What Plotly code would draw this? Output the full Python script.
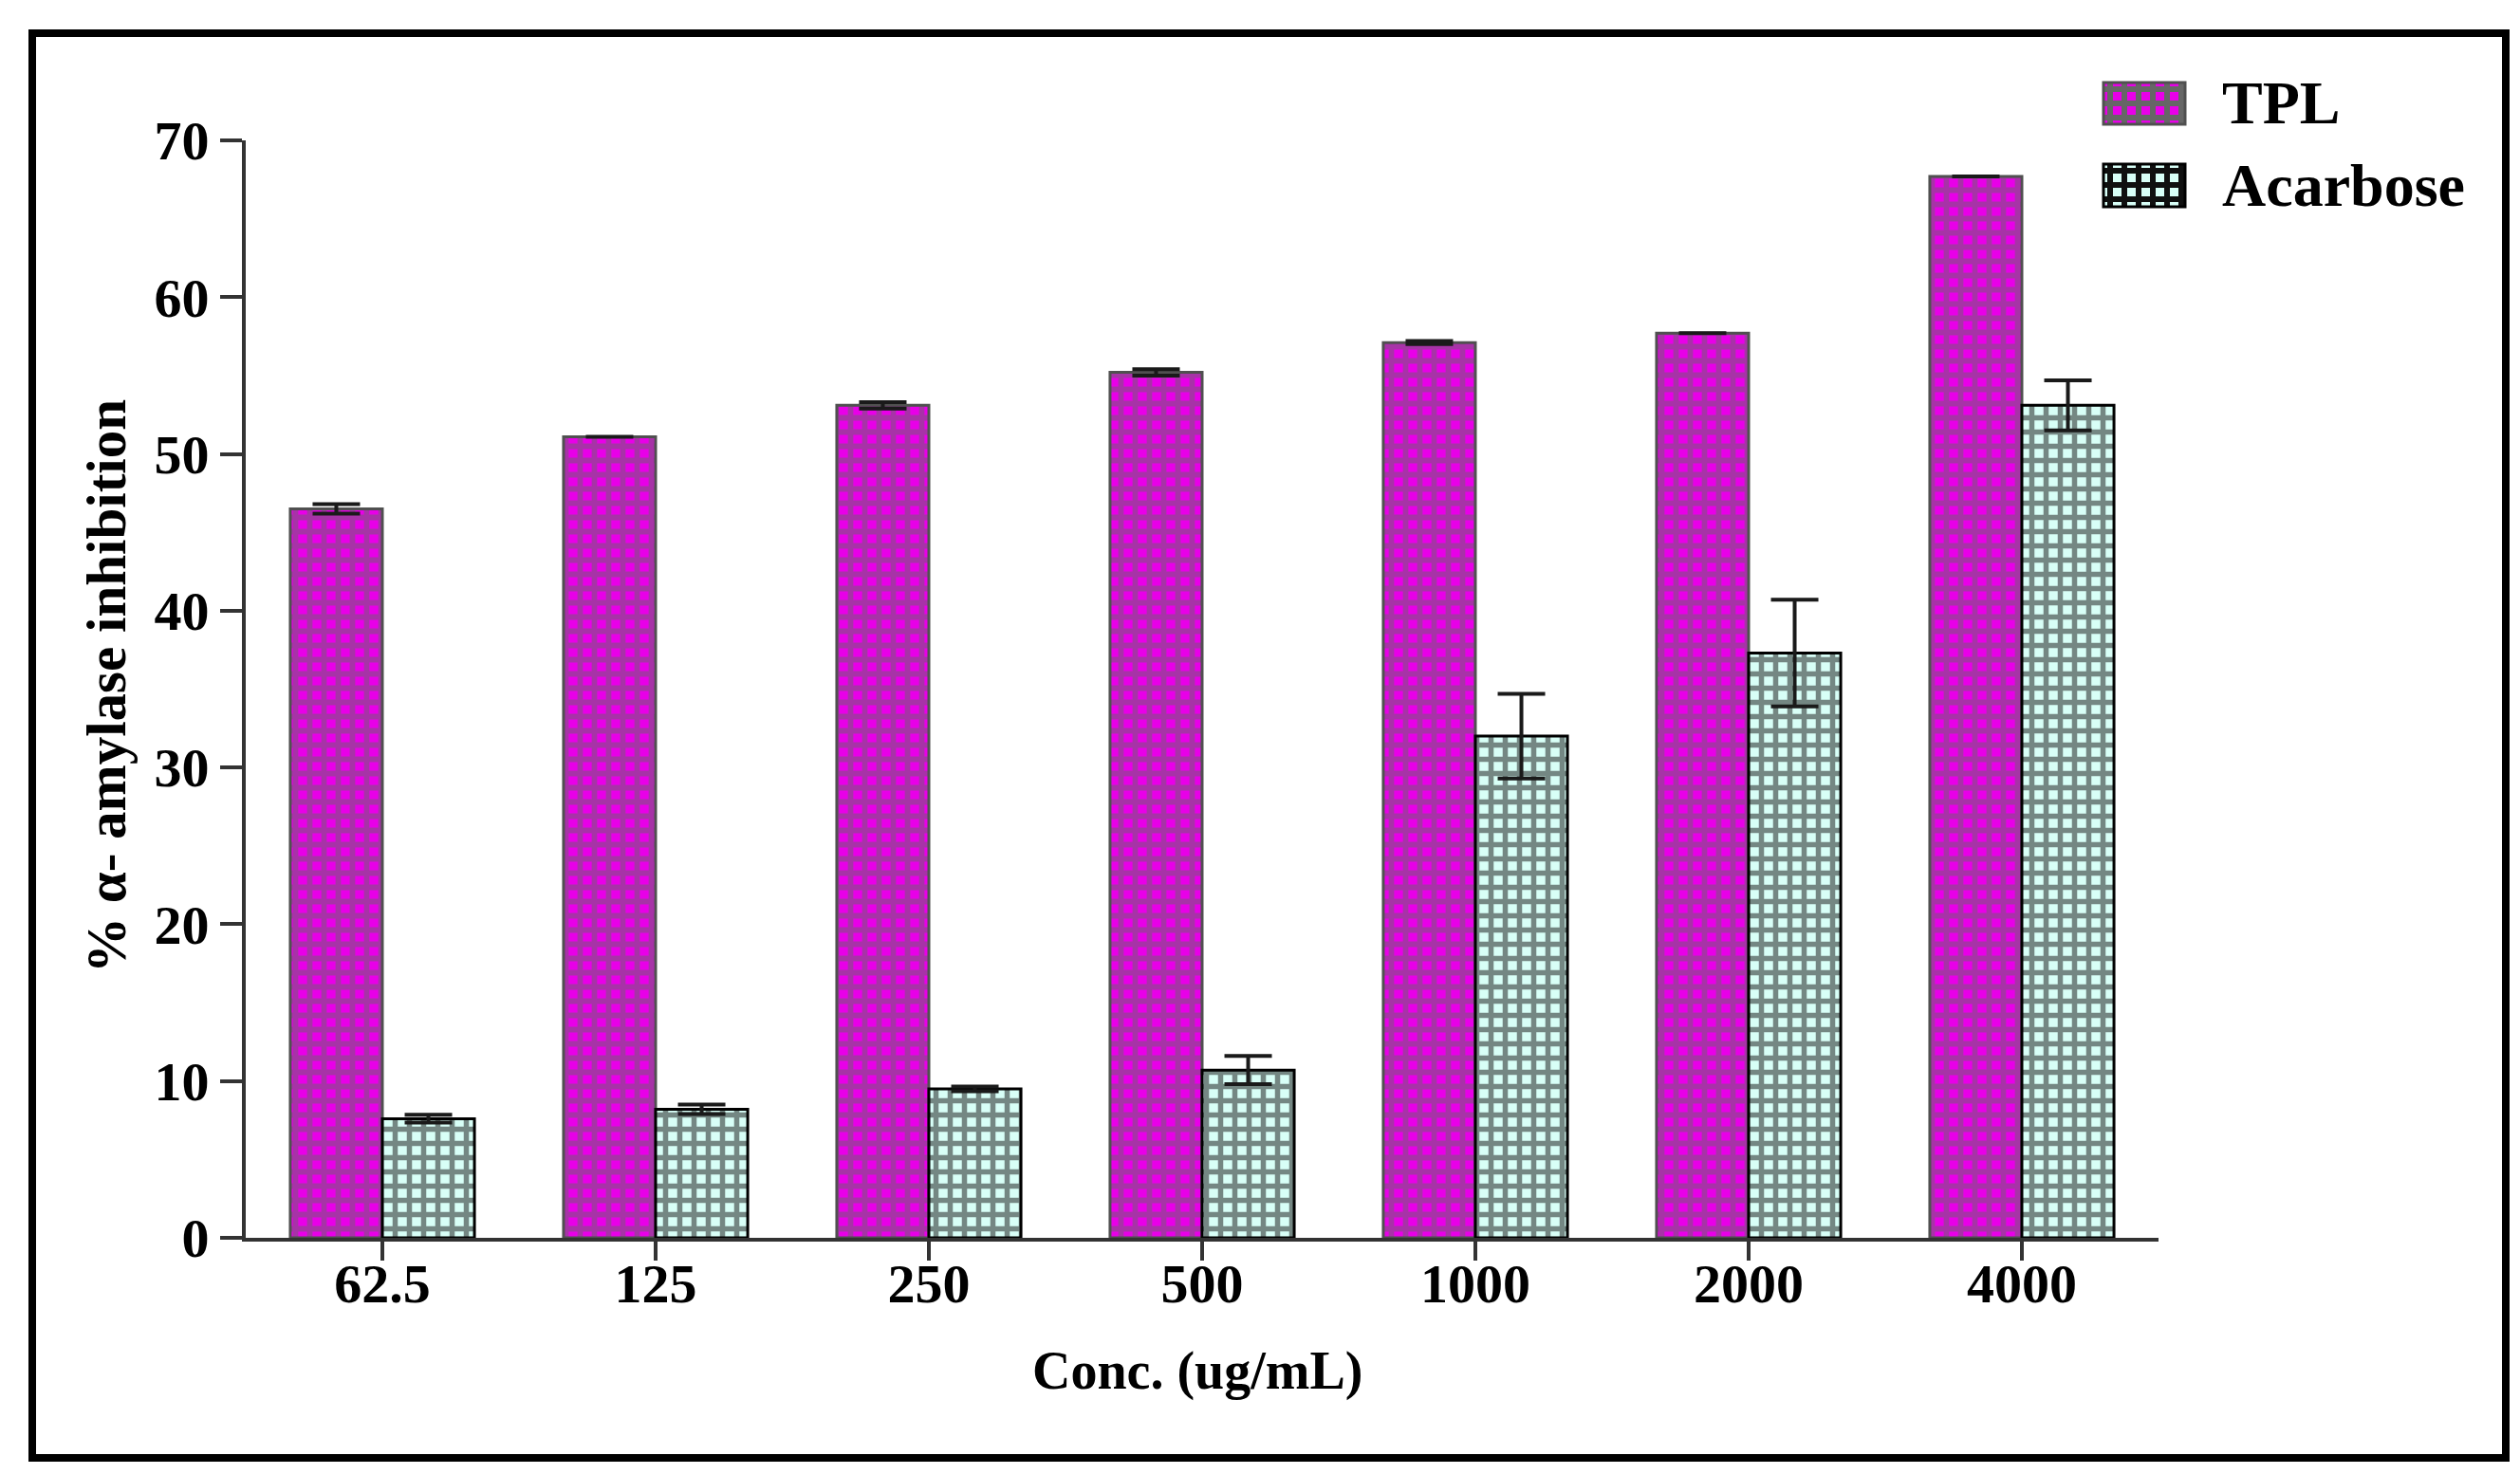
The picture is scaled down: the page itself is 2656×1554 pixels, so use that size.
import plotly.graph_objects as go

categories = ["62.5", "125", "250", "500", "1000", "2000", "4000"]
tpl_values = [46.5, 51.1, 53.1, 55.2, 57.1, 57.7, 67.7]
tpl_errors = [0.3, 0.0, 0.2, 0.2, 0.1, 0.0, 0.0]
acarbose_values = [7.6, 8.2, 9.5, 10.7, 32.0, 37.3, 53.1]
acarbose_errors = [0.25, 0.3, 0.15, 0.9, 2.7, 3.4, 1.6]
y_ticks = [0, 10, 20, 30, 40, 50, 60, 70]

W, H = 2656, 1554
L, R, T, B = 259, 381, 148, 249
PW, PH = W - L - R, H - T - B

def px_x(px):
    return (px - L) / PW

def px_y(py):
    return (H - B - py) / PH

FONT = "Liberation Serif"

fig = go.Figure()
fig.add_trace(go.Bar(
    x=categories, y=tpl_values, name="TPL",
    marker=dict(
        color="#e400e4",
        line=dict(color="#505050", width=3),
        pattern=dict(shape="+", fgcolor="#666666", bgcolor="#e800e8",
                     size=15, solidity=0.62, fillmode="overlay"),
    ),
    error_y=dict(type="data", array=tpl_errors, symmetric=True,
                 color="#1a1a1a", thickness=4, width=25),
    showlegend=False,
))
fig.add_trace(go.Bar(
    x=categories, y=acarbose_values, name="Acarbose",
    marker=dict(
        color="#d2fff4",
        line=dict(color="#000000", width=3),
        pattern=dict(shape="+", fgcolor="#101010", bgcolor="#d8fff7",
                     size=15, solidity=0.6, fillmode="overlay"),
    ),
    error_y=dict(type="data", array=acarbose_errors, symmetric=True,
                 color="#1a1a1a", thickness=4, width=25),
    showlegend=False,
))

shapes = []
# outer frame
shapes.append(dict(type="rect", xref="paper", yref="paper",
                   x0=px_x(34), x1=px_x(2641), y0=px_y(1537), y1=px_y(35),
                   line=dict(color="black", width=8), fillcolor="rgba(0,0,0,0)",
                   layer="above"))

# legend swatches (decoration)
def swatch(x0, y0, x1, y1, bg, fg, edge, lw):
    shapes.append(dict(type="rect", xref="paper", yref="paper",
                       x0=px_x(x0), x1=px_x(x1), y0=px_y(y1), y1=px_y(y0),
                       fillcolor=bg, line=dict(width=0)))
    step = 15
    xx = x0 + 7
    while xx < x1:
        shapes.append(dict(type="line", xref="paper", yref="paper",
                           x0=px_x(xx), x1=px_x(xx), y0=px_y(y1), y1=px_y(y0),
                           line=dict(color=fg, width=lw)))
        xx += step
    yy = y0 + 7
    while yy < y1:
        shapes.append(dict(type="line", xref="paper", yref="paper",
                           x0=px_x(x0), x1=px_x(x1), y0=px_y(yy), y1=px_y(yy),
                           line=dict(color=fg, width=lw)))
        yy += step
    shapes.append(dict(type="rect", xref="paper", yref="paper",
                       x0=px_x(x0), x1=px_x(x1), y0=px_y(y1), y1=px_y(y0),
                       fillcolor="rgba(0,0,0,0)", line=dict(color=edge, width=3)))

swatch(2217, 87, 2303, 131, "#e800e8", "#666666", "#505050", 6)
swatch(2217, 173, 2303, 218, "#d8fff7", "#101010", "#000000", 6)

annotations = [
    dict(text="TPL", xref="paper", yref="paper", x=px_x(2340), y=px_y(109),
         xanchor="left", yanchor="middle", showarrow=False,
         font=dict(family=FONT, size=64, color="black", weight="bold")),
    dict(text="Acarbose", xref="paper", yref="paper", x=px_x(2340), y=px_y(196),
         xanchor="left", yanchor="middle", showarrow=False,
         font=dict(family=FONT, size=64, color="black", weight="bold")),
    dict(text="% α- amylase inhibition", xref="paper", yref="paper",
         x=px_x(112), y=px_y(724), textangle=-90,
         xanchor="center", yanchor="middle", showarrow=False,
         font=dict(family=FONT, size=59, color="black", weight="bold")),
    dict(text="Conc. (ug/mL)", xref="paper", yref="paper",
         x=px_x(1262), y=px_y(1445),
         xanchor="center", yanchor="middle", showarrow=False,
         font=dict(family=FONT, size=56, color="black", weight="bold")),
]

fig.update_layout(
    width=W, height=H, autosize=False,
    margin=dict(l=L, r=R, t=T, b=B, pad=0),
    paper_bgcolor="white", plot_bgcolor="white",
    barmode="group", bargap=0.326, bargroupgap=0,
    shapes=shapes, annotations=annotations,
    showlegend=False,
)
fig.update_xaxes(
    type="category", range=[-0.5, 6.5],
    showline=True, linecolor="#333333", linewidth=4,
    ticks="outside", ticklen=20, tickwidth=4, tickcolor="#333333",
    ticklabelstandoff=-26,
    tickfont=dict(family=FONT, size=58, color="black", weight="bold"),
    showgrid=False, zeroline=False,
)
fig.update_yaxes(
    range=[0, 70], tickvals=y_ticks,
    showline=True, linecolor="#333333", linewidth=4,
    ticks="outside", ticklen=23, tickwidth=4, tickcolor="#333333",
    tickfont=dict(family=FONT, size=58, color="black", weight="bold"),
    showgrid=False, zeroline=False,
)

fig.write_html("out.html", config={"displayModeBar": False})

with open("out.html", "r", encoding="utf-8") as f:
    html = f.read()
html = html.replace("<head>", "<head><style>html,body{margin:0;padding:0;overflow:hidden;}</style>", 1)
with open("out.html", "w", encoding="utf-8") as f:
    f.write(html)
